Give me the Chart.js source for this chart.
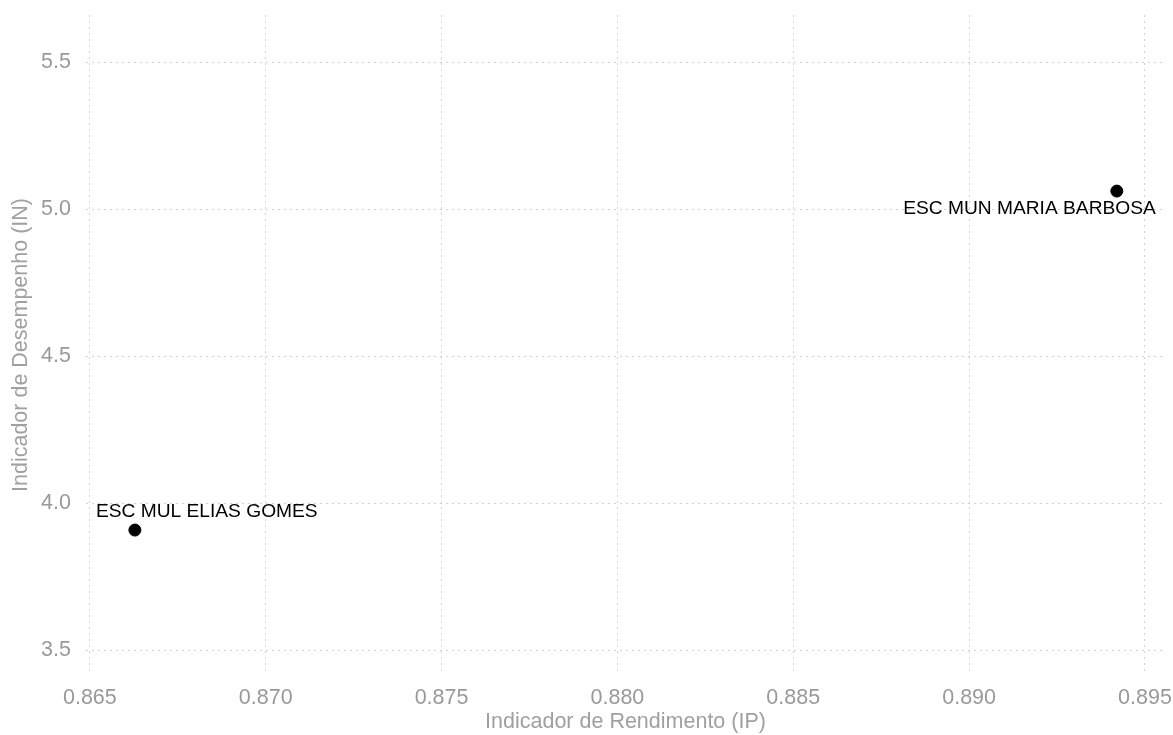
<!DOCTYPE html>
<html>
<head>
<meta charset="utf-8">
<script src="https://cdn.jsdelivr.net/npm/chart.js@4"></script>
<style>
  html, body { margin: 0; padding: 0; background: #fff; }
  #wrap { width: 1173px; height: 735px; }
</style>
</head>
<body>
<div id="wrap"><canvas id="myChart"></canvas></div>
<script>
const escolas = ["ESC MUL ELIAS GOMES", "ESC MUN MARIA BARBOSA"];
const rendimento = [0.86628, 0.8942];
const desempenho = [3.908, 5.061];
const xTicks = [0.865, 0.870, 0.875, 0.880, 0.885, 0.890, 0.895];
const yTicks = [3.5, 4.0, 4.5, 5.0, 5.5];

// where each label sits relative to its point (px)
const labelPos = [
  { dx: -39, dy: -18, align: "left" },
  { dx: 39, dy: 18, align: "right" }
];

let points = [];
for (let i = 0; i < escolas.length; i++) {
  points.push({ x: rendimento[i], y: desempenho[i] });
}

const FONT = "'Liberation Sans', Arial, sans-serif";

const pointLabels = {
  id: "pointLabels",
  afterDatasetsDraw(chart) {
    const ctx = chart.ctx;
    const xs = chart.scales.x, ys = chart.scales.y;
    ctx.save();
    ctx.font = "19.2px " + FONT;
    ctx.fillStyle = "#000";
    ctx.textBaseline = "middle";
    escolas.forEach((nome, i) => {
      const px = xs.getPixelForValue(rendimento[i]);
      const py = ys.getPixelForValue(desempenho[i]);
      ctx.textAlign = labelPos[i].align;
      ctx.fillText(nome, px + labelPos[i].dx, py + labelPos[i].dy);
    });
    ctx.restore();
  }
};

const grid = {
  color: "#d2d2d2",
  lineWidth: 1,
  drawTicks: false
};

const myChart = new Chart(document.getElementById("myChart"), {
  type: "scatter",
  data: {
    datasets: [{
      data: points,
      backgroundColor: "#000",
      borderColor: "#000",
      pointRadius: 6,
      pointHoverRadius: 6
    }]
  },
  options: {
    responsive: true,
    maintainAspectRatio: false,
    animation: false,
    layout: { padding: { top: 15, right: 8, left: 0, bottom: 0 } },
    plugins: {
      legend: { display: false },
      tooltip: { enabled: false }
    },
    scales: {
      x: {
        type: "linear",
        min: 0.86489,
        max: 0.89557,
        border: { display: false, dash: [2, 4] },
        grid: grid,
        afterBuildTicks: s => { s.ticks = xTicks.map(v => ({ value: v })); },
        afterFit: s => { s.height = 60; s.paddingLeft = 0; s.paddingRight = 0; },
        ticks: {
          padding: 10,
          color: "#999",
          font: { family: FONT, size: 21.5 },
          maxRotation: 0,
          callback: v => v.toFixed(3)
        },
        title: {
          display: true,
          text: "Indicador de Rendimento (IP)",
          color: "#a0a0a0",
          font: { family: FONT, size: 21.5 },
          padding: { top: 4, bottom: 0 }
        }
      },
      y: {
        type: "linear",
        min: 3.415,
        max: 5.66,
        border: { display: false, dash: [2, 4] },
        grid: grid,
        afterBuildTicks: s => { s.ticks = yTicks.map(v => ({ value: v })); },
        afterFit: s => { s.width = 86; s.paddingTop = 0; s.paddingBottom = 0; },
        ticks: {
          padding: 15,
          color: "#999",
          font: { family: FONT, size: 21.5 },
          callback: v => v.toFixed(1)
        },
        title: {
          display: true,
          text: "Indicador de Desempenho (IN)",
          color: "#a0a0a0",
          font: { family: FONT, size: 21.5 },
          padding: { top: 8, bottom: 0 }
        }
      }
    }
  },
  plugins: [pointLabels]
});
</script>
</body>
</html>
